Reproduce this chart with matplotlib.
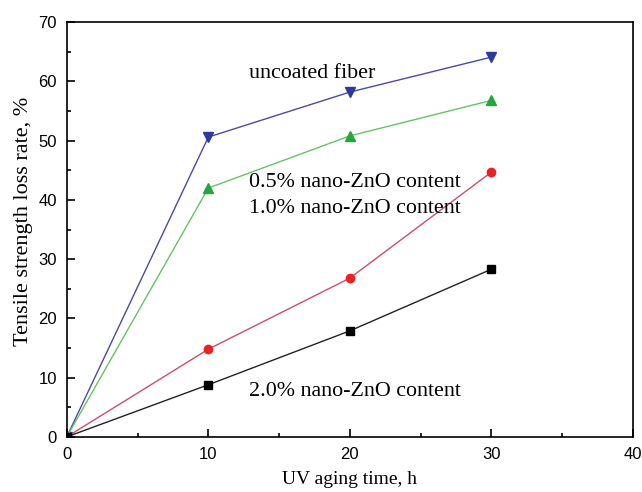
import matplotlib
matplotlib.use('Agg')
import matplotlib.pyplot as plt
from matplotlib.ticker import MultipleLocator

# Données
temps = [0, 10, 20, 30]
non_enduit = [0, 50.6, 58.2, 64.1]
zno_05 = [0, 42.0, 50.8, 56.8]
zno_10 = [0, 14.8, 26.8, 44.7]
zno_20 = [0, 8.8, 17.9, 28.3]

serif = 'Liberation Serif'
sans = 'Liberation Sans'

fig = plt.figure(figsize=(6.42, 4.92), dpi=100)
ax = fig.add_axes([0.104, 0.112, 0.882, 0.843])

ax.plot(temps, non_enduit, color='#4a4aa8', lw=1, marker='v', ms=7,
        mfc='#2a3a9e', mec='#2a3a9e')
ax.plot(temps, zno_05, color='#66c266', lw=1, marker='^', ms=7,
        mfc='#22a83a', mec='#22a83a')
ax.plot(temps, zno_10, color='#c8506a', lw=1, marker='o', ms=6,
        mfc='#ee2020', mec='#ee2020')
ax.plot(temps, zno_20, color='#222222', lw=1, marker='s', ms=6,
        mfc='black', mec='black')

# Annotations des courbes
ax.text(12.9, 61.4, 'uncoated fiber', family=serif, fontsize=15.8, va='center')
ax.text(12.9, 43.0, '0.5% nano-ZnO content', family=serif, fontsize=15.8, va='center')
ax.text(12.9, 38.6, '1.0% nano-ZnO content', family=serif, fontsize=15.8, va='center')
ax.text(12.9, 7.6, '2.0% nano-ZnO content', family=serif, fontsize=15.8, va='center')

ax.set_xlim(0, 40)
ax.set_ylim(0, 70)
ax.xaxis.set_major_locator(MultipleLocator(10))
ax.xaxis.set_minor_locator(MultipleLocator(5))
ax.yaxis.set_major_locator(MultipleLocator(10))
ax.yaxis.set_minor_locator(MultipleLocator(5))
ax.tick_params(which='both', direction='in', width=1.2)
ax.tick_params(which='major', length=6, labelsize=12, pad=7)
ax.tick_params(which='minor', length=3)
for lab in ax.get_xticklabels() + ax.get_yticklabels():
    lab.set_family(sans)
for s in ax.spines.values():
    s.set_linewidth(1.2)

ax.set_xlabel('UV aging time, h', family=serif, fontsize=14, labelpad=7)
ax.set_ylabel('Tensile strength loss rate, %', family=serif, fontsize=16)
ax.yaxis.set_label_coords(-0.06, 0.52)

fig.savefig('out.png', dpi=100, facecolor='white')
